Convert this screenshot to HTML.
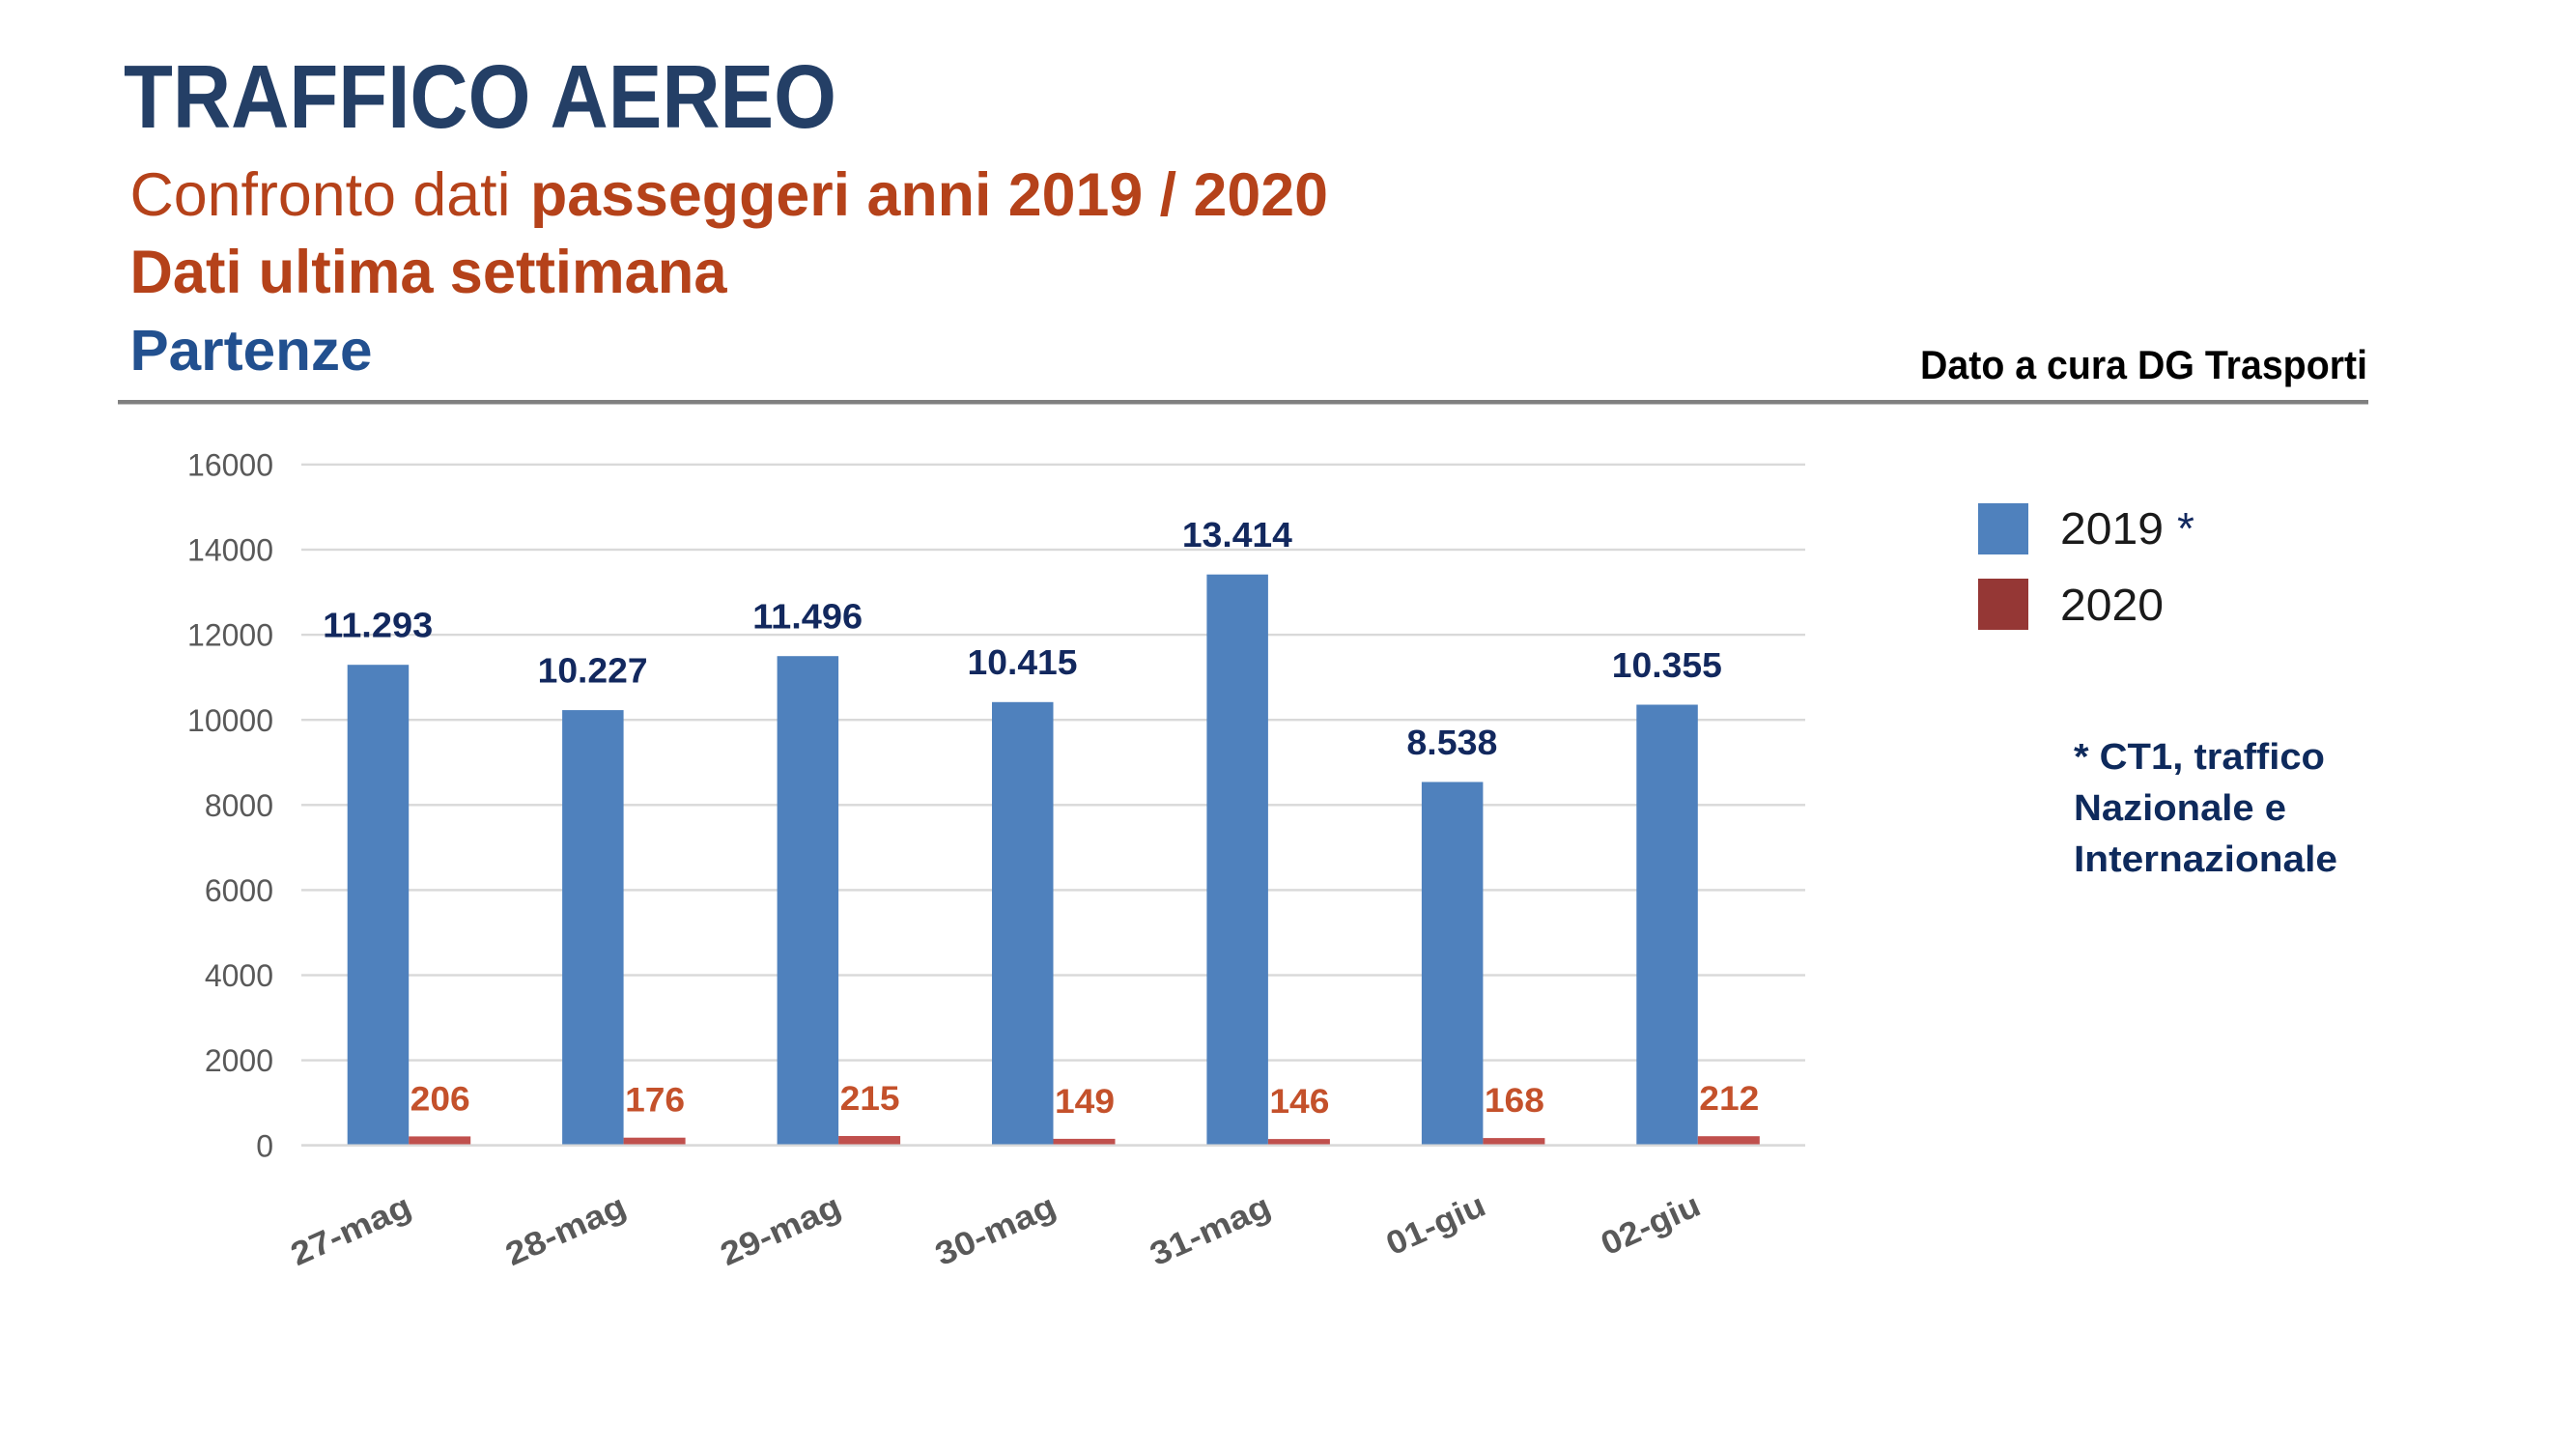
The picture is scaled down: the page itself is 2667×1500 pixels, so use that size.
<!DOCTYPE html>
<html><head><meta charset="utf-8"><style>
html,body{margin:0;padding:0;background:#fff;}
svg{display:block;}
text{font-family:"Liberation Sans",Arial,sans-serif;}
</style></head><body>
<svg width="2667" height="1500" viewBox="0 0 2667 1500" xmlns="http://www.w3.org/2000/svg">
<rect width="2667" height="1500" fill="#fff"/>
<!-- Titles -->
<text x="128" y="132" font-size="93" font-weight="bold" fill="#243F66" textLength="738" lengthAdjust="spacingAndGlyphs">TRAFFICO AEREO</text>
<text x="134.5" y="223" font-size="63" fill="#B5421A" textLength="394" lengthAdjust="spacingAndGlyphs">Confronto dati</text>
<text x="549" y="223" font-size="63" font-weight="bold" fill="#B5421A" textLength="826" lengthAdjust="spacingAndGlyphs">passeggeri anni 2019 / 2020</text>
<text x="134.5" y="303" font-size="63" font-weight="bold" fill="#B5421A" textLength="618" lengthAdjust="spacingAndGlyphs">Dati ultima settimana</text>
<text x="134.5" y="383" font-size="59" font-weight="bold" fill="#22508F" textLength="251" lengthAdjust="spacingAndGlyphs">Partenze</text>
<text x="1988" y="392" font-size="42" font-weight="bold" fill="#000" textLength="463" lengthAdjust="spacingAndGlyphs">Dato a cura DG Trasporti</text>
<rect x="122" y="414" width="2330" height="4.5" fill="#808080"/>

<!-- Gridlines -->
<g fill="#D9D9D9">
<rect x="312" y="479.7" width="1557" height="2.4"/>
<rect x="312" y="567.8" width="1557" height="2.4"/>
<rect x="312" y="655.9" width="1557" height="2.4"/>
<rect x="312" y="744.0" width="1557" height="2.4"/>
<rect x="312" y="832.1" width="1557" height="2.4"/>
<rect x="312" y="920.2" width="1557" height="2.4"/>
<rect x="312" y="1008.3" width="1557" height="2.4"/>
<rect x="312" y="1096.4" width="1557" height="2.4"/>
<rect x="312" y="1184.3" width="1557" height="2.6"/>
</g>
<!-- Y labels -->
<g font-size="32" fill="#595959" text-anchor="end">
<text x="283" y="492.5">16000</text>
<text x="283" y="580.6">14000</text>
<text x="283" y="668.7">12000</text>
<text x="283" y="756.8">10000</text>
<text x="283" y="844.9">8000</text>
<text x="283" y="933">6000</text>
<text x="283" y="1021.1">4000</text>
<text x="283" y="1109.2">2000</text>
<text x="283" y="1197.3">0</text>
</g>

<!-- Blue bars -->
<g fill="#4F81BD">
<rect x="359.7" y="688.2" width="63.5" height="496.3"/>
<rect x="582.1" y="735.1" width="63.5" height="449.4"/>
<rect x="804.6" y="679.2" width="63.5" height="505.3"/>
<rect x="1027" y="726.8" width="63.5" height="457.7"/>
<rect x="1249.4" y="594.7" width="63.5" height="589.8"/>
<rect x="1471.9" y="809.5" width="63.5" height="375"/>
<rect x="1694.3" y="729.5" width="63.5" height="455"/>
</g>
<!-- Red bars -->
<g fill="#C0504D">
<rect x="423.2" y="1176.4" width="64" height="8.1"/>
<rect x="645.6" y="1177.7" width="64" height="6.8"/>
<rect x="868.1" y="1176.0" width="64" height="8.5"/>
<rect x="1090.5" y="1178.9" width="64" height="5.6"/>
<rect x="1312.9" y="1179.1" width="64" height="5.4"/>
<rect x="1535.4" y="1178.1" width="64" height="6.4"/>
<rect x="1757.8" y="1176.2" width="64" height="8.3"/>
</g>

<!-- Blue value labels -->
<g font-size="36" font-weight="bold" fill="#12285E" text-anchor="middle">
<text x="391.2" y="659.5" textLength="114" lengthAdjust="spacingAndGlyphs">11.293</text>
<text x="613.6" y="706.4" textLength="114" lengthAdjust="spacingAndGlyphs">10.227</text>
<text x="836.1" y="650.5" textLength="114" lengthAdjust="spacingAndGlyphs">11.496</text>
<text x="1058.5" y="698.1" textLength="114" lengthAdjust="spacingAndGlyphs">10.415</text>
<text x="1280.9" y="566" textLength="114" lengthAdjust="spacingAndGlyphs">13.414</text>
<text x="1503.4" y="780.8" textLength="94" lengthAdjust="spacingAndGlyphs">8.538</text>
<text x="1725.8" y="700.8" textLength="114" lengthAdjust="spacingAndGlyphs">10.355</text>
</g>
<!-- Red value labels -->
<g font-size="35" font-weight="bold" fill="#C4512B" text-anchor="middle">
<text x="455.7" y="1149.4" textLength="62" lengthAdjust="spacingAndGlyphs">206</text>
<text x="678.1" y="1150.7" textLength="62" lengthAdjust="spacingAndGlyphs">176</text>
<text x="900.6" y="1149" textLength="62" lengthAdjust="spacingAndGlyphs">215</text>
<text x="1123" y="1151.9" textLength="62" lengthAdjust="spacingAndGlyphs">149</text>
<text x="1345.4" y="1152.1" textLength="62" lengthAdjust="spacingAndGlyphs">146</text>
<text x="1567.9" y="1151.1" textLength="62" lengthAdjust="spacingAndGlyphs">168</text>
<text x="1790.3" y="1149.2" textLength="62" lengthAdjust="spacingAndGlyphs">212</text>
</g>

<!-- X labels -->
<g font-size="34" font-weight="bold" fill="#595959" text-anchor="end">
<text transform="translate(428.2,1257) rotate(-24)" textLength="132" lengthAdjust="spacingAndGlyphs">27-mag</text>
<text transform="translate(650.6,1257) rotate(-24)" textLength="132" lengthAdjust="spacingAndGlyphs">28-mag</text>
<text transform="translate(873.1,1257) rotate(-24)" textLength="132" lengthAdjust="spacingAndGlyphs">29-mag</text>
<text transform="translate(1095.5,1257) rotate(-24)" textLength="132" lengthAdjust="spacingAndGlyphs">30-mag</text>
<text transform="translate(1317.9,1257) rotate(-24)" textLength="132" lengthAdjust="spacingAndGlyphs">31-mag</text>
<text transform="translate(1540.4,1256) rotate(-24)" textLength="108" lengthAdjust="spacingAndGlyphs">01-giu</text>
<text transform="translate(1762.8,1256) rotate(-24)" textLength="108" lengthAdjust="spacingAndGlyphs">02-giu</text>
</g>

<!-- Legend -->
<rect x="2048" y="521" width="52" height="53" fill="#4F81BD"/>
<rect x="2048" y="599" width="52" height="53" fill="#953735"/>
<text x="2133" y="563" font-size="46" fill="#1a1a1a" textLength="107" lengthAdjust="spacingAndGlyphs">2019</text>
<text x="2254" y="563" font-size="46" fill="#12285E">*</text>
<text x="2133" y="642" font-size="46" fill="#1a1a1a" textLength="107" lengthAdjust="spacingAndGlyphs">2020</text>

<!-- Footnote -->
<g font-size="38" font-weight="bold" fill="#0E2A5C">
<text x="2147" y="796" textLength="260" lengthAdjust="spacingAndGlyphs">* CT1, traffico</text>
<text x="2147" y="849" textLength="220" lengthAdjust="spacingAndGlyphs">Nazionale e</text>
<text x="2147" y="902" textLength="273" lengthAdjust="spacingAndGlyphs">Internazionale</text>
</g>
</svg>
</body></html>
